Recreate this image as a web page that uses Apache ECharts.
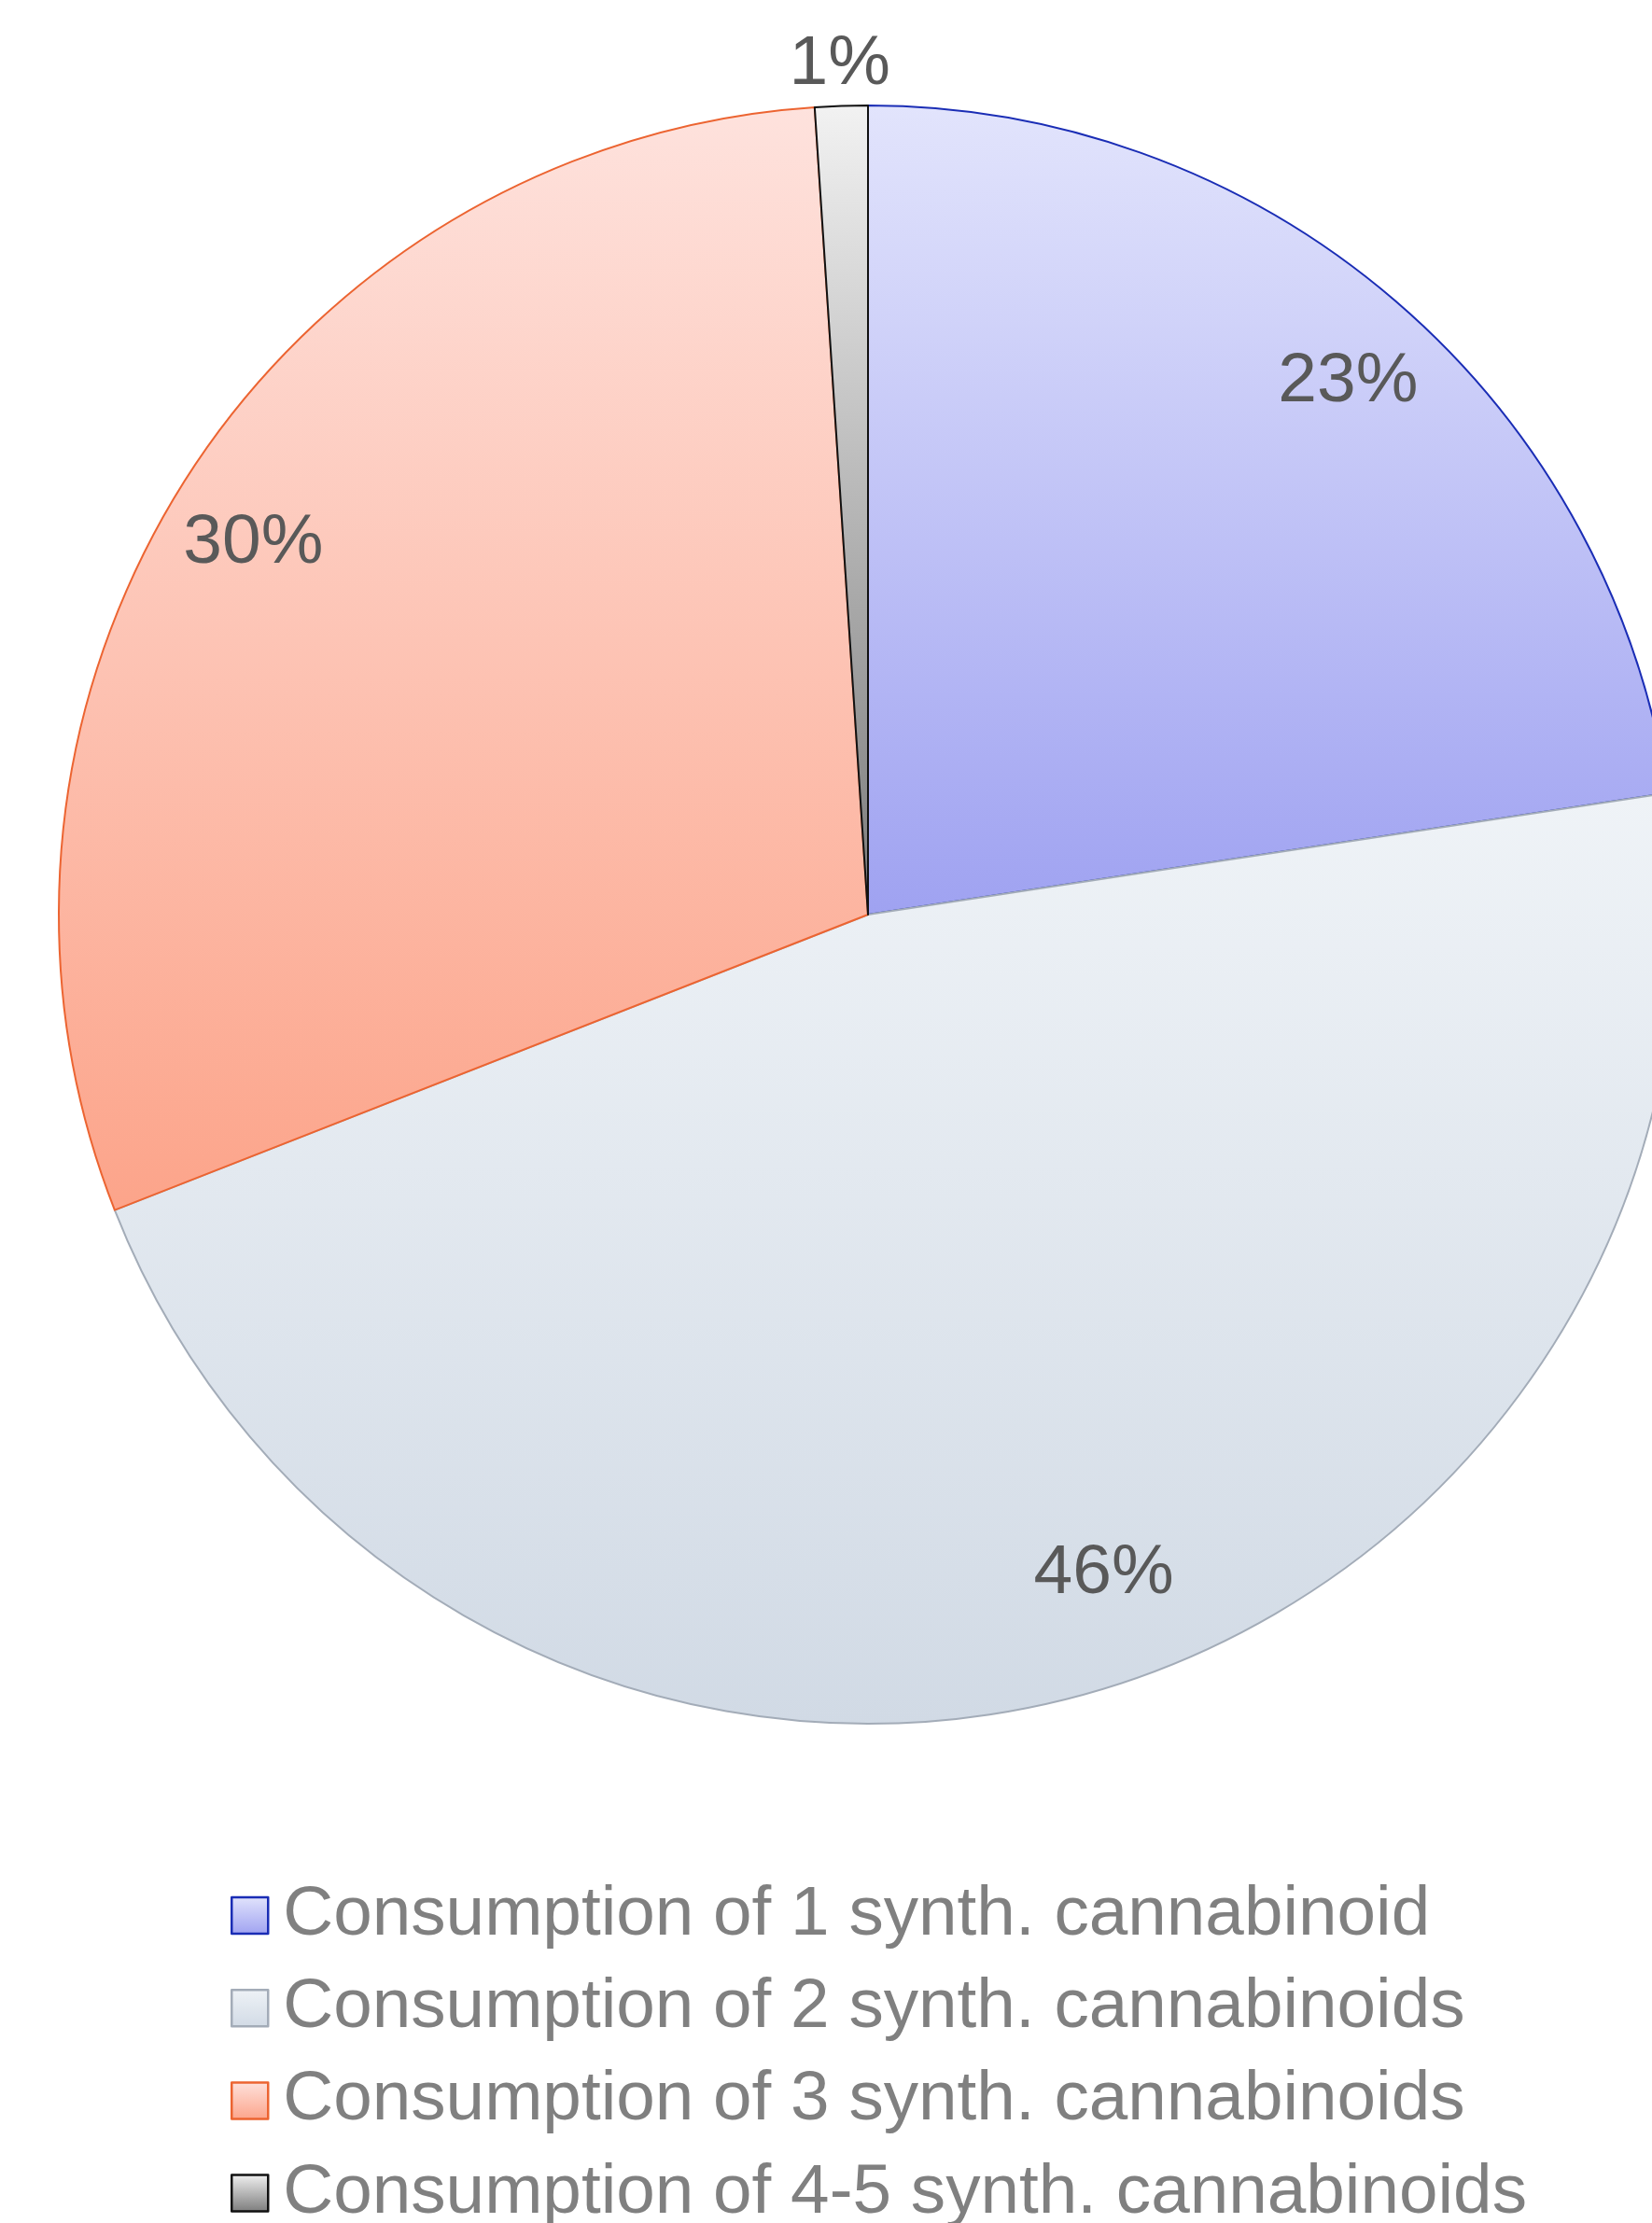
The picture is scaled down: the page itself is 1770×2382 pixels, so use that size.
<!DOCTYPE html>
<html>
<head>
<meta charset="utf-8">
<script src="https://cdn.jsdelivr.net/npm/echarts@6/dist/echarts.min.js"></script>
<style>
html,body{margin:0;padding:0;background:#fff;}
#chart{width:1770px;height:2382px;}
</style>
</head>
<body>
<div id="chart"></div>
<script>
const categories = [
  'Consumption of 1 synth. cannabinoid',
  'Consumption of 2 synth. cannabinoids',
  'Consumption of 3 synth. cannabinoids',
  'Consumption of 4-5 synth. cannabinoids'
];
const shares = [22.6, 46.45, 29.9, 1.05];

const topColors = ['#e2e4fc', '#eff3f7', '#fee2dd', '#f2f2f2'];
const bottomColors = ['#9fa2f1', '#d1dae5', '#fca48a', '#7a7a7a'];
const borderColors = ['#1a2db5', '#a3acb8', '#ec6431', '#111111'];
// label nudges (px) to mimic the best-fit placement of the original
const labelNudge = [[15, 10], [54, -33], [-12, 13], [0, 4]];

const CX = 930, CY = 980, R = 867;
const LEGEND_TOP = 2015, LEGEND_STEP = 99.2;

function grad(i) {
  return new echarts.graphic.LinearGradient(0, 0, 0, 1, [
    { offset: 0, color: topColors[i] },
    { offset: 1, color: bottomColors[i] }
  ]);
}

const mainData = categories.map((c, i) => ({
  name: c,
  value: shares[i],
  itemStyle: { color: grad(i), borderColor: borderColors[i], borderWidth: 2 }
}));

const labelStyle = {
  fontFamily: 'Liberation Sans, Arial, sans-serif',
  fontSize: 75,
  color: '#595959'
};
const fmt = p => Math.round(p.percent) + '%';

function overlayData(showIdx) {
  return categories.map((c, i) => ({
    name: 'ov' + i,
    value: shares[i],
    label: { show: showIdx.indexOf(i) >= 0, offset: labelNudge[i] }
  }));
}

const legends = categories.map((c, i) => ({
  data: [c],
  orient: 'vertical',
  left: 247,
  top: LEGEND_TOP + i * LEGEND_STEP,
  padding: 0,
  icon: 'rect',
  itemWidth: 39,
  itemHeight: 39,
  itemStyle: { borderWidth: 2.5 },
  selectedMode: false,
  textStyle: {
    fontFamily: 'Liberation Sans, Arial, sans-serif',
    fontSize: 74.7,
    color: '#808080',
    padding: [0, 0, 0, 11]
  }
}));

const chart = echarts.init(document.getElementById('chart'), null, { renderer: 'canvas' });
chart.setOption({
  animation: false,
  backgroundColor: '#ffffff',
  legend: legends,
  series: [
    {
      type: 'pie',
      center: [CX, CY],
      radius: [0, R],
      startAngle: 90,
      clockwise: true,
      silent: true,
      avoidLabelOverlap: false,
      label: { show: false },
      labelLine: { show: false },
      emphasis: { disabled: true },
      data: mainData
    },
    {
      type: 'pie',
      center: [CX, CY],
      radius: [0, R * 1.76],
      startAngle: 90,
      clockwise: true,
      silent: true,
      avoidLabelOverlap: false,
      itemStyle: { color: 'rgba(0,0,0,0)', borderWidth: 0 },
      label: Object.assign({ position: 'inside', formatter: fmt, rotate: 0 }, labelStyle),
      labelLine: { show: false },
      emphasis: { disabled: true },
      data: overlayData([0, 1, 2])
    },
    {
      type: 'pie',
      center: [CX, CY],
      radius: [0, R * 2.104],
      startAngle: 90,
      clockwise: true,
      silent: true,
      avoidLabelOverlap: false,
      itemStyle: { color: 'rgba(0,0,0,0)', borderWidth: 0 },
      label: Object.assign({ position: 'inside', formatter: fmt, rotate: 0 }, labelStyle),
      labelLine: { show: false },
      emphasis: { disabled: true },
      data: overlayData([3])
    }
  ]
});
</script>
</body>
</html>
